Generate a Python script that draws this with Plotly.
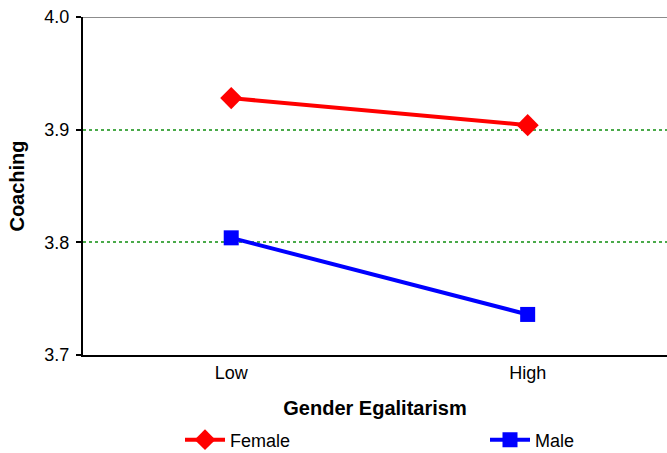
import plotly.graph_objects as go

categories = ["Low", "High"]
female = [3.928, 3.904]
male = [3.804, 3.736]
y_ticks = [3.7, 3.8, 3.9, 4.0]
y_tick_labels = ["3.7", "3.8", "3.9", "4.0"]

W, H = 667, 453
ml, mr, mt, mb = 83, 0, 17, 98
pw = W - ml - mr
ph = H - mt - mb

fig = go.Figure()
fig.add_trace(go.Scatter(
    x=[0, 1], y=female, name="Female", mode="lines+markers",
    line=dict(color="#ff0000", width=4),
    marker=dict(symbol="diamond", size=17, color="#ff0000"),
    legend="legend",
))
fig.add_trace(go.Scatter(
    x=[0, 1], y=male, name="Male", mode="lines+markers",
    line=dict(color="#0000ff", width=4),
    marker=dict(symbol="square", size=15, color="#0000ff"),
    legend="legend2",
))

# top border of the plot area
fig.add_shape(type="line", xref="paper", yref="y", x0=0, x1=1, y0=4.0, y1=4.0,
              line=dict(color="#8c8c8c", width=2), layer="below")

leg_y = (355 - 440) / ph
legend_common = dict(
    orientation="h", xanchor="left", yanchor="middle", y=leg_y,
    font=dict(size=18), bgcolor="rgba(0,0,0,0)", itemwidth=40,
)

fig.update_layout(
    width=W, height=H,
    margin=dict(l=ml, r=mr, t=mt, b=mb, autoexpand=False),
    plot_bgcolor="white", paper_bgcolor="white",
    font=dict(family="Liberation Sans, Arial, sans-serif", size=18, color="black"),
    showlegend=True,
    legend=dict(x=(180 - ml) / pw, **legend_common),
    legend2=dict(x=(485 - ml) / pw, **legend_common),
    xaxis=dict(
        range=[-0.5, 1.47], tickmode="array", tickvals=[0, 1], ticktext=categories,
        showgrid=False, zeroline=False, showline=True, linecolor="black", linewidth=2,
        ticks="", tickfont=dict(size=18), automargin=False,
        title=dict(text="<b>Gender Egalitarism</b>", font=dict(size=20), standoff=19),
    ),
    yaxis=dict(
        range=[3.7, 4.0], tickmode="array", tickvals=y_ticks, ticktext=y_tick_labels,
        showgrid=True, gridcolor="#4aaa4a", griddash="dot", gridwidth=1.5,
        zeroline=False, showline=True, linecolor="black", linewidth=2,
        ticks="outside", ticklen=5, tickcolor="black", tickwidth=1.5,
        tickfont=dict(size=18), automargin=False, ticklabelstandoff=3,
        title=dict(text="<b>Coaching</b>", font=dict(size=20), standoff=14),
    ),
)

fig.write_html("out.html", config={"displayModeBar": False},
               post_script="document.body.style.margin='0';")
